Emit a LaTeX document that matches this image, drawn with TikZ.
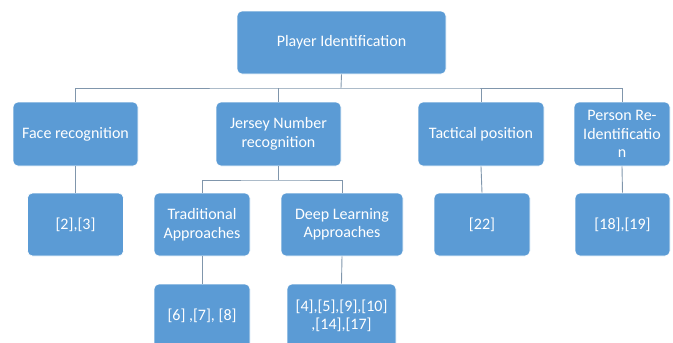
\documentclass[tikz,border=0pt]{standalone}
\usepackage{fontspec}
\setmainfont{Carlito}
\definecolor{boxblue}{RGB}{91,155,213}
\definecolor{linegray}{RGB}{128,150,172}
\begin{document}
\begin{tikzpicture}[x=1pt,y=-1pt,
  box/.style={draw=white,line width=0.6pt,fill=boxblue,rounded corners=5pt,text=white,
    font=\fontsize{16}{18.5}\selectfont,align=center,inner sep=0pt},
  conn/.style={draw=linegray,line width=0.9pt}]
\useasboundingbox (0,0) rectangle (673,343);
\clip (0,0) rectangle (673,343);
\node[box,minimum width=209pt,minimum height=63pt] (top) at (341.5,42.5) {Player Identification};
\node[box,minimum width=125pt,minimum height=64pt] (face) at (75.5,134) {Face recognition};
\node[box,minimum width=125pt,minimum height=64pt] (jersey) at (278.5,134) {Jersey Number\\recognition};
\node[box,minimum width=126pt,minimum height=64pt] (tact) at (481,134) {Tactical position};
\node[box,minimum width=96pt,minimum height=64pt] (pers) at (622,134) {Person Re-\\Identificatio\\n};
\node[box,minimum width=96pt,minimum height=63pt] (r23) at (75.5,224.5) {[2],[3]};
\node[box,minimum width=96pt,minimum height=63pt] (trad) at (202,224.5) {Traditional\\Approaches};
\node[box,minimum width=122pt,minimum height=63pt] (deep) at (342,224.5) {Deep Learning\\Approaches};
\node[box,minimum width=96pt,minimum height=63pt] (r22) at (482,224.5) {[22]};
\node[box,minimum width=95pt,minimum height=63pt] (r1819) at (622.5,224.5) {[18],[19]};
\node[box,minimum width=96pt,minimum height=64pt] (r678) at (202,316) {[6] ,[7], [8]};
\node[box,minimum width=109pt,minimum height=64pt] (r4) at (341.5,316) {[4],[5],[9],[10]\\,[14],[17]};
\coordinate (hub) at (341,88);
\draw[conn] (top.south) -- (hub);
\draw[conn] (face.north) |- (hub) -| (pers.north);
\draw[conn] (jersey.north) -- (jersey.north |- hub);
\draw[conn] (tact.north) -- (tact.north |- hub);
\coordinate (jhub) at (278.5,180);
\draw[conn] (jersey.south) -- (jhub);
\draw[conn] (trad.north) |- (jhub) -| (deep.north);
\draw[conn] (face.south) -- (r23.north);
\draw[conn] (tact.south) -- (r22.north);
\draw[conn] (pers.south) -- (r1819.north);
\draw[conn] (trad.south) -- (r678.north);
\draw[conn] (deep.south) -- (r4.north);
\end{tikzpicture}
\end{document}
